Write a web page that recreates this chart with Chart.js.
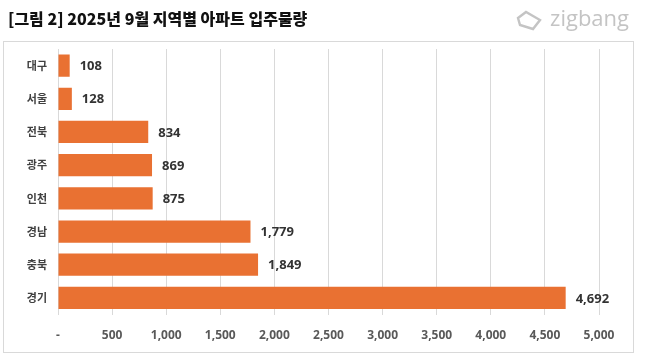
<!DOCTYPE html>
<html><head><meta charset="utf-8">
<script src="https://cdn.jsdelivr.net/npm/chart.js@4"></script>
<style>html,body{margin:0;padding:0;background:#fff}#c{display:block}</style>
</head><body>
<div style="width:648px;height:358px"><canvas id="c" width="648" height="358"></canvas></div>
<script>
const titleText = '[그림 2] 2025년 9월 지역별 아파트 입주물량';
const logoText = 'zigbang';
const regions = ['대구','서울','전북','광주','인천','경남','충북','경기'];
const supply = [108,128,834,869,875,1779,1849,4692];
const xTicks = [0,500,1000,1500,2000,2500,3000,3500,4000,4500,5000];

const KR = '"Noto Sans CJK KR", "Noto Sans", sans-serif';

const frame = {
  id:'frame',
  beforeDraw(chart){
    const ctx = chart.ctx;
    ctx.save();
    ctx.fillStyle='#fff';ctx.fillRect(0,0,chart.width,chart.height);
    ctx.strokeStyle='#d9d9d9';ctx.lineWidth=1;
    ctx.strokeRect(3.5,41.5,630,311);
    ctx.fillStyle='#111';
    ctx.font='900 16px '+KR;
    ctx.textBaseline='middle';ctx.textAlign='left';
    ctx.fillText(titleText,8,19);
    // logo
    ctx.fillStyle='#c4c4c4';
    ctx.font='500 22px "Open Sans", sans-serif';
    ctx.textAlign='right';
    ctx.fillText(logoText,629,20);
    ctx.strokeStyle='#c4c4c4';ctx.lineWidth=2.4;
    ctx.beginPath();
    ctx.moveTo(518,18);ctx.lineTo(526,12);ctx.lineTo(540,20);ctx.lineTo(533,29);ctx.lineTo(520,25);ctx.closePath();
    ctx.stroke();
    ctx.restore();
  }
};
const labels = {
  id:'labels',
  afterDatasetsDraw(chart){
    const ctx=chart.ctx;
    const meta=chart.getDatasetMeta(0);
    ctx.save();
    ctx.fillStyle='#333';
    ctx.font='bold 13px "Open Sans", sans-serif';
    ctx.textAlign='left';ctx.textBaseline='middle';
    meta.data.forEach((b,i)=>{
      ctx.fillText(supply[i].toLocaleString('en-US'), b.x+10, b.y+1);
    });
    ctx.restore();
  }
};

new Chart(document.getElementById('c'),{
  type:'bar',
  data:{labels:regions,datasets:[{data:supply,backgroundColor:'#E97132',borderWidth:0,barPercentage:0.67,categoryPercentage:1}]},
  options:{
    indexAxis:'y',responsive:false,animation:false,
    layout:{padding:{left:4,top:49,right:49,bottom:0}},
    plugins:{legend:{display:false},tooltip:{enabled:false},title:{display:false}},
    scales:{
      x:{min:0,max:5000,
        afterBuildTicks(s){s.ticks=xTicks.map(v=>({value:v}));},
        afterFit(s){s.height=43.5;},
        grid:{color:'#d9d9d9',drawTicks:false,tickLength:0},
        border:{display:false},
        ticks:{padding:14,color:'#595959',font:{family:'"Open Sans", sans-serif',weight:'bold',size:12},
          callback:(v)=>v===0?'-':Number(v).toLocaleString('en-US'),maxRotation:0,autoSkip:false}
      },
      y:{
        afterFit(s){s.width=54;},
        grid:{display:false,drawTicks:false},
        border:{display:false},
        ticks:{padding:11,color:'#404040',font:{family:KR,weight:'bold',size:11}}
      }
    }
  },
  plugins:[frame,labels]
});
</script>
</body></html>
